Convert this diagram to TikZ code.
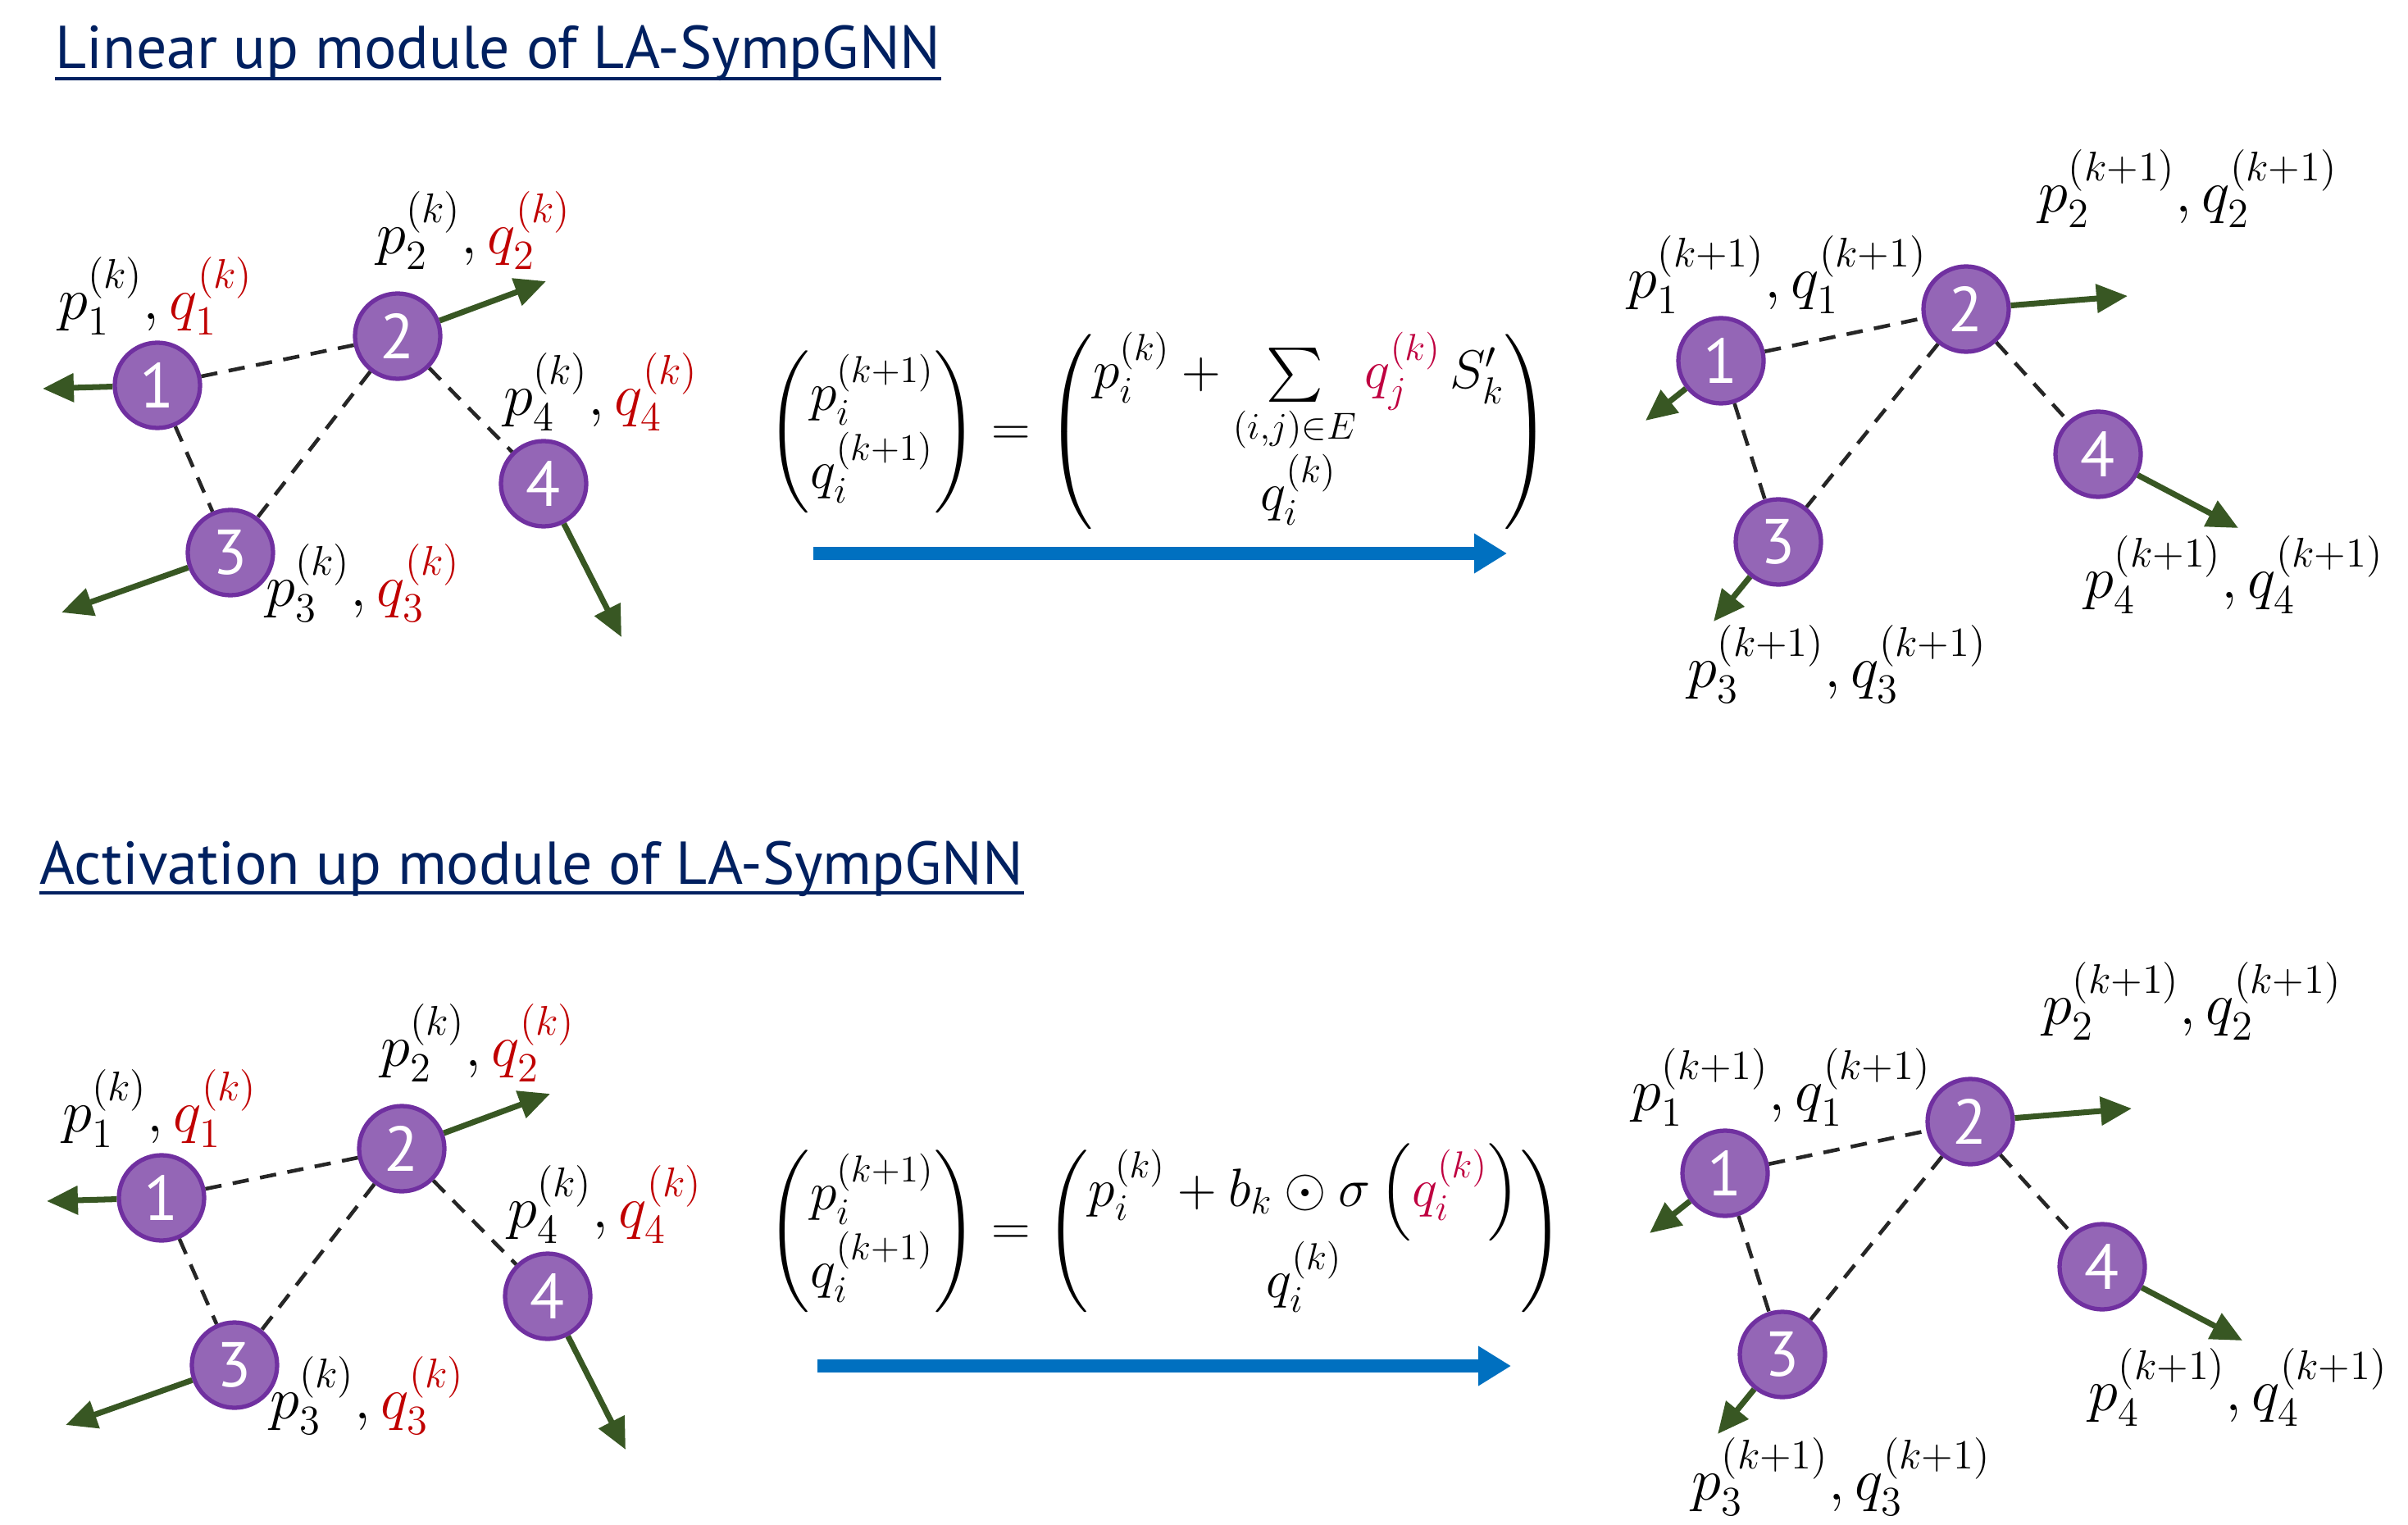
\documentclass[tikz,border=0pt]{standalone}
\usepackage{amsmath}
\usepackage{fontspec}
\setsansfont{PT Sans}
\usepackage{tikz}
\usetikzlibrary{arrows.meta,positioning}
\definecolor{titleblue}{RGB}{0,32,96}
\definecolor{nodefill}{RGB}{148,102,182}
\definecolor{nodeedge}{RGB}{112,48,160}
\definecolor{vecgreen}{RGB}{56,87,35}
\definecolor{flowblue}{RGB}{0,112,192}
\definecolor{qred}{RGB}{192,0,0}
\definecolor{qpink}{RGB}{191,0,64}
\renewcommand{\arraystretch}{1.15}
\tikzset{
  ttl/.style={anchor=base west, inner sep=0pt, text=titleblue,
              font=\sffamily\fontsize{21}{25}\selectfont},
  uline/.style={draw=titleblue, line width=1.4pt},
  vtx/.style={circle, draw=nodeedge, fill=nodefill, line width=1.5pt,
              minimum size=1.04cm, inner sep=0pt, text=white,
              font=\sffamily\fontsize{22}{24}\selectfont},
  lbl/.style={inner sep=0pt, font=\fontsize{20}{24}\selectfont},
  link/.style={draw=black!85, line width=1.3pt, dash pattern=on 2mm off 1.4mm},
  vec/.style={-{Triangle[length=3.8mm,width=3.4mm]}, line width=2pt, draw=vecgreen},
  flow/.style={-{Triangle[length=4mm,width=4.6mm]}, line width=4.5pt, draw=flowblue},
  eqn/.style={inner sep=0pt, font=\fontsize{20}{24}\selectfont, scale=0.905, transform shape}
}

\begin{document}
\begin{tikzpicture}
  \useasboundingbox (0,0) rectangle (29.37,-18.6);

  % titles
  \node[ttl] (ta) at (0.67,-0.84) {Linear up module of LA-SympGNN};
  \draw[uline] ([yshift=-1.2mm]ta.base west) -- ([yshift=-1.2mm]ta.base east);
  \node[ttl] (tb) at (0.48,-10.78) {Activation up module of LA-SympGNN};
  \draw[uline] ([yshift=-1.1mm]tb.base west) -- ([yshift=-1.1mm]tb.base east);

  % update rules
  \node[eqn] (eqa) at (14.14,-5.27) {$\displaystyle
    \begin{pmatrix} p_i^{(k+1)} \\ q_i^{(k+1)} \end{pmatrix} =
    \begin{pmatrix} p_i^{(k)} + \sum\limits_{(i,j)\in E} \textcolor{qpink}{q_j^{(k)}}\, S'_k \\
      q_i^{(k)} \end{pmatrix}$};
  \node[eqn] (eqb) at (14.21,-15.02) {$\displaystyle
    \begin{pmatrix} p_i^{(k+1)} \\ q_i^{(k+1)} \end{pmatrix} =
    \begin{pmatrix} p_i^{(k)} + b_k \odot \sigma\left(\textcolor{qpink}{q_i^{(k)}}\right) \\
      q_i^{(k)} \end{pmatrix}$};

  \foreach \r/\dx/\dy in {a/0/0, b/0.05/-9.91}{
  \begin{scope}[shift={(\dx,\dy)}]
    % graph at step k
    \node[vtx] (L1\r) at (1.92,-4.70) {1};
    \node[vtx] (L2\r) at (4.85,-4.10) {2};
    \node[vtx] (L3\r) at (2.81,-6.74) {3};
    \node[vtx] (L4\r) at (6.63,-5.90) {4};
    \draw[link] (L1\r) -- (L2\r);
    \draw[link] (L1\r) -- (L3\r);
    \draw[link] (L2\r) -- (L3\r);
    \draw[link] (L2\r) -- (L4\r);
    \coordinate (vL1\r) at (0.52,-4.74);
    \coordinate (vL2\r) at (6.66,-3.43);
    \coordinate (vL3\r) at (0.75,-7.47);
    \coordinate (vL4\r) at (7.58,-7.77);
    \draw[vec] (L1\r) -- (vL1\r);
    \draw[vec] (L2\r) -- (vL2\r);
    \draw[vec] (L3\r) -- (vL3\r);
    \draw[vec] (L4\r) -- (vL4\r);
    \node[lbl] (pL1\r) at (1.90,-3.61) {$p_1^{(k)},\textcolor{qred}{q_1^{(k)}}$};
    \node[lbl] (pL2\r) at (5.78,-2.81) {$p_2^{(k)},\textcolor{qred}{q_2^{(k)}}$};
    \node[lbl] (pL3\r) at (4.43,-7.11) {$p_3^{(k)},\textcolor{qred}{q_3^{(k)}}$};
    \node[lbl] (pL4\r) at (7.33,-4.78) {$p_4^{(k)},\textcolor{qred}{q_4^{(k)}}$};

    % update arrow
    \coordinate (fs\r) at (9.92,-6.75);
    \coordinate (fe\r) at (18.38,-6.75);
    \draw[flow] (fs\r) -- (fe\r);

    % graph at step k+1
    \node[vtx] (R1\r) at (20.99,-4.40) {1};
    \node[vtx] (R2\r) at (23.98,-3.77) {2};
    \node[vtx] (R3\r) at (21.69,-6.61) {3};
    \node[vtx] (R4\r) at (25.59,-5.54) {4};
    \draw[link] (R1\r) -- (R2\r);
    \draw[link] (R1\r) -- (R3\r);
    \draw[link] (R2\r) -- (R3\r);
    \draw[link] (R2\r) -- (R4\r);
    \coordinate (vR1\r) at (20.07,-5.13);
    \coordinate (vR2\r) at (25.95,-3.61);
    \coordinate (vR3\r) at (20.90,-7.58);
    \coordinate (vR4\r) at (27.30,-6.44);
    \draw[vec] (R1\r) -- (vR1\r);
    \draw[vec] (R2\r) -- (vR2\r);
    \draw[vec] (R3\r) -- (vR3\r);
    \draw[vec] (R4\r) -- (vR4\r);
    \node[lbl] (pR1\r) at (21.68,-3.35) {$p_1^{(k+1)},q_1^{(k+1)}$};
    \node[lbl] (pR2\r) at (26.69,-2.30) {$p_2^{(k+1)},q_2^{(k+1)}$};
    \node[lbl] (pR3\r) at (22.41,-8.10) {$p_3^{(k+1)},q_3^{(k+1)}$};
    \node[lbl] (pR4\r) at (27.25,-7.01) {$p_4^{(k+1)},q_4^{(k+1)}$};
  \end{scope}
  }
\end{tikzpicture}
\end{document}
